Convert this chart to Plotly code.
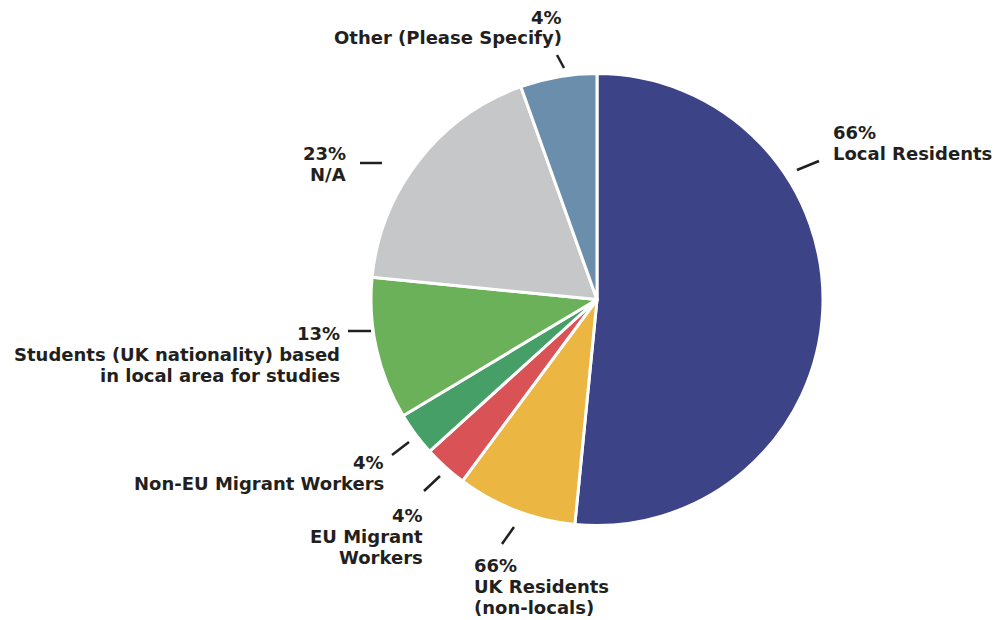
import plotly.graph_objects as go

# Survey responses: who the respondents are
categories = [
    "Local Residents",
    "UK Residents\n(non-locals)",
    "EU Migrant\nWorkers",
    "Non-EU Migrant Workers",
    "Students (UK nationality) based\nin local area for studies",
    "N/A",
    "Other (Please Specify)",
]
responses = [66, 11, 4, 4, 13, 23, 7]
label_pct = ["66%", "66%", "4%", "4%", "13%", "23%", "4%"]
colors = ["#3c4487", "#ebb641", "#d95255", "#469f66", "#6bb15a", "#c6c7c9", "#6a8eab"]

W, H = 999, 620
CX, CY, R = 597, 299.5, 226        # pie centre and radius in pixels
TEXT = "#231f20"
FONT = "DejaVu Sans"
SIZE = 18
STEP = 21                           # line step of the label blocks

# label placement: (anchor x, first-line y, alignment, leader line start, leader line end)
placement = [
    (832, 132, "left", (797, 170), (819, 161)),
    (473, 565, "left", (502, 544), (514, 527)),
    (424, 515, "right", (424, 491), (440, 476)),
    (385, 462, "right", (392, 455), (409, 442)),
    (341, 333, "right", (348, 331), (371, 331)),
    (347, 153, "right", (360, 163), (382, 163)),
    (563, 17, "right", (557, 55), (564, 68)),
]


def px(x):
    return x / W


def py(y):
    return 1 - y / H


fig = go.Figure(
    go.Pie(
        labels=[c.replace("\n", " ") for c in categories],
        values=responses,
        marker=dict(colors=colors, line=dict(color="white", width=3)),
        sort=False,
        direction="clockwise",
        rotation=0,
        textinfo="none",
        hoverinfo="label+value",
        domain=dict(x=[px(CX - R), px(CX + R)], y=[py(CY + R), py(CY - R)]),
        showlegend=False,
    )
)

annotations = []
shapes = []
for name, pct, (ax, ay, align, p0, p1) in zip(categories, label_pct, placement):
    lines = [pct] + name.split("\n")
    for i, line in enumerate(lines):
        annotations.append(
            dict(
                x=px(ax), y=py(ay + i * STEP), xref="paper", yref="paper",
                text=line, showarrow=False, xanchor=align, yanchor="middle",
                align=align, borderpad=0,
                font=dict(family=FONT, size=SIZE, color=TEXT, weight=700),
            )
        )
    shapes.append(
        dict(
            type="line", xref="paper", yref="paper",
            x0=px(p0[0]), y0=py(p0[1]), x1=px(p1[0]), y1=py(p1[1]),
            line=dict(color=TEXT, width=2.5),
        )
    )

fig.update_layout(
    width=W, height=H,
    margin=dict(l=0, r=0, t=0, b=0),
    paper_bgcolor="white", plot_bgcolor="white",
    annotations=annotations, shapes=shapes,
)

fig.write_html("out.html")
